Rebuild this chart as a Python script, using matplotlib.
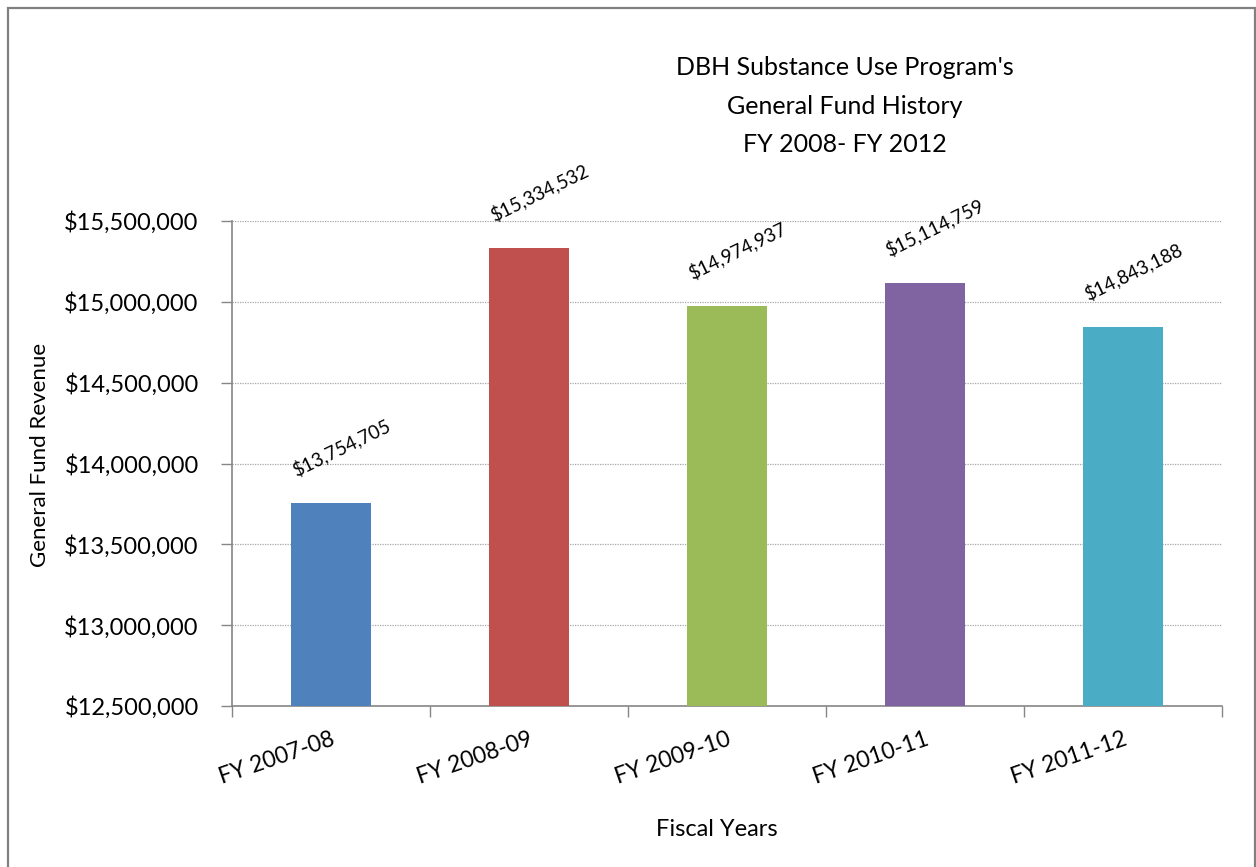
import matplotlib
matplotlib.use("Agg")
import matplotlib.pyplot as plt
from matplotlib.patches import Rectangle
from matplotlib.ticker import FuncFormatter, MultipleLocator

plt.rcParams['font.family'] = ['Lato', 'DejaVu Sans']

categories = ["FY 2007-08", "FY 2008-09", "FY 2009-10", "FY 2010-11", "FY 2011-12"]
revenue = [13754705, 15334532, 14974937, 15114759, 14843188]
bar_colors = ["#4F81BD", "#C0504D", "#9BBB59", "#8064A2", "#4BACC6"]
title_lines = ["DBH Substance Use Program's", "General Fund History", "FY 2008- FY 2012"]

W, H = 1256, 867
fig = plt.figure(figsize=(W / 100, H / 100), dpi=100)
ax = fig.add_axes([232 / W, 1 - 706 / H, (1222 - 232) / W, (706 - 221) / H])

x = list(range(len(categories)))
ax.bar(x, revenue, width=0.40, color=bar_colors, zorder=3)

ax.set_xlim(-0.5, len(categories) - 0.5)
ax.set_ylim(12_500_000, 15_500_000)
ax.yaxis.set_major_locator(MultipleLocator(500_000))
ax.yaxis.set_major_formatter(FuncFormatter(lambda v, _: f"${v:,.0f}"))
ax.grid(axis='y', linestyle=(0, (1, 1)), color='#a6a6a6', linewidth=0.9, zorder=0)

# category boundaries carry the tick marks, centres carry the labels
ax.set_xticks([i - 0.5 for i in range(len(categories) + 1)])
ax.set_xticklabels([])
ax.set_xticks(x, minor=True)
ax.set_xticklabels(categories, minor=True, rotation=19, ha='right',
                   rotation_mode='anchor', fontsize=16.5)
ax.tick_params(axis='x', which='minor', length=0, pad=16)
ax.tick_params(axis='x', which='major', length=8, width=1, color='#868686', direction='out')
ax.tick_params(axis='y', length=8, width=1, color='#868686', direction='out',
               labelsize=17, pad=16)

for side in ('top', 'right'):
    ax.spines[side].set_visible(False)
for side in ('left', 'bottom'):
    ax.spines[side].set_color('#868686')
    ax.spines[side].set_linewidth(1.2)

for xi, v in zip(x, revenue):
    ax.annotate(f"${v:,.0f}", (xi, v), xytext=(7, 40), textcoords='offset points',
                ha='center', va='center', rotation=26, rotation_mode='anchor',
                fontsize=13.5)

fig.text(40 / W, 1 - 455 / H, "General Fund Revenue", rotation=90,
         ha='center', va='center', fontsize=16)
fig.text(717 / W, 1 - 829 / H, "Fiscal Years", ha='center', va='center', fontsize=17)

for line, base in zip(title_lines, [75, 113.5, 152]):
    fig.text(845 / W, 1 - base / H, line, ha='center', va='baseline', fontsize=18)

fig.patches.append(Rectangle((7.5 / W, -0.05), (1254.5 - 7.5) / W, 1.05 - 7.5 / H,
                             transform=fig.transFigure, fill=False,
                             edgecolor='#808080', linewidth=1.6))

fig.savefig("out.png", dpi=100, facecolor='white')
